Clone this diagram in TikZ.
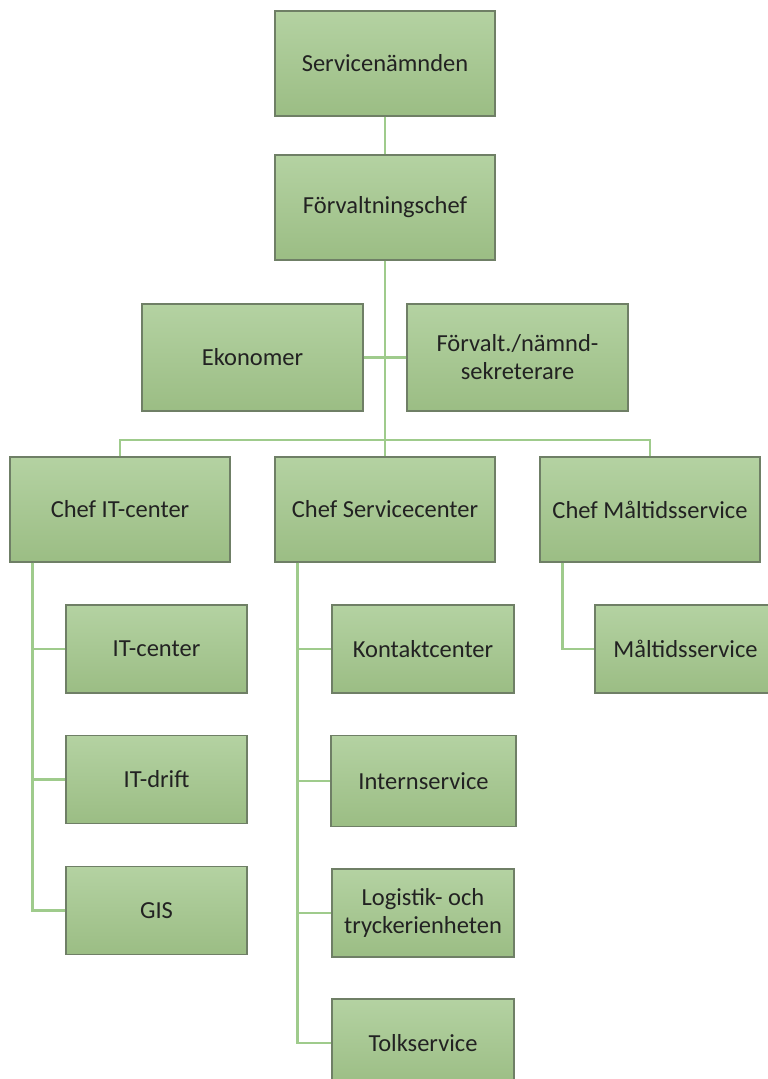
\documentclass[tikz,border=0pt]{standalone}
\usepackage{fontspec}
\setmainfont{Carlito}
\definecolor{boxtop}{HTML}{B4D2A2}
\definecolor{boxbot}{HTML}{9BBD84}
\definecolor{boxline}{HTML}{6F7F66}
\definecolor{conncol}{HTML}{9FCB8C}
\definecolor{txt}{HTML}{222222}
\tikzset{
  orgbox/.style={draw=boxline, line width=1.2pt, top color=boxtop, bottom color=boxbot,
    minimum width=220pt, minimum height=105pt, inner sep=2pt, align=center,
    text=txt, font=\fontsize{24.5}{28}\selectfont},
  subbox/.style={orgbox, minimum width=182pt, minimum height=88pt},
  conn/.style={draw=conncol, line width=2.6pt}
}
\begin{document}
\begin{tikzpicture}[x=1pt,y=-1pt]
\useasboundingbox (0,0) rectangle (768,1079);
\coordinate (hub) at (385,440);
\node[orgbox] (sn) at (385,63.5) {Servicenämnden};
\node[orgbox] (fc) at (385,207.5) {Förvaltningschef};
\node[orgbox, minimum width=221pt, minimum height=107pt] (ek) at (252.5,357.5) {Ekonomer};
\node[orgbox, minimum width=221pt, minimum height=107pt] (fs) at (517.5,357.5) {Förvalt./nämnd-\\sekreterare};
\node[orgbox] (cit) at (120,509.5) {Chef IT-center};
\node[orgbox] (css) at (385,509.5) {Chef Servicecenter};
\node[orgbox] (cms) at (650,509.5) {Chef Måltidsservice};
\node[subbox, minimum width=181pt] (itc) at (156.5,649) {IT-center};
\node[subbox, minimum width=181pt] (itd) at (156.5,779.5) {IT-drift};
\node[subbox, minimum width=181pt] (gis) at (156.5,910.5) {GIS};
\node[subbox] (kc) at (423,649) {Kontaktcenter};
\node[subbox, minimum width=185pt, minimum height=91pt] (is) at (423.5,781) {Internservice};
\node[subbox] (lt) at (423,913) {Logistik- och\\tryckerienheten};
\node[subbox] (ts) at (423,1043) {Tolkservice};
\node[subbox, minimum width=181pt] (ms) at (685.5,649) {Måltidsservice};
\draw[conn] (sn) -- (fc);
\draw[conn] (fc.south) -- (hub);
\draw[conn] (ek.east) -- (fs.west);
\draw[conn] (hub) -- (css.north);
\draw[conn] (cit.north) |- (hub);
\draw[conn] (hub) -| (cms.north);
\draw[conn] ([xshift=23pt]cit.south west) |- (itc.west);
\draw[conn] ([xshift=23pt]cit.south west) |- (itd.west);
\draw[conn] ([xshift=23pt]cit.south west) |- (gis.west);
\draw[conn] ([xshift=23pt]css.south west) |- (kc.west);
\draw[conn] ([xshift=23pt]css.south west) |- (is.west);
\draw[conn] ([xshift=23pt]css.south west) |- (lt.west);
\draw[conn] ([xshift=23pt]css.south west) |- (ts.west);
\draw[conn] ([xshift=23pt]cms.south west) |- (ms.west);
\end{tikzpicture}
\end{document}
